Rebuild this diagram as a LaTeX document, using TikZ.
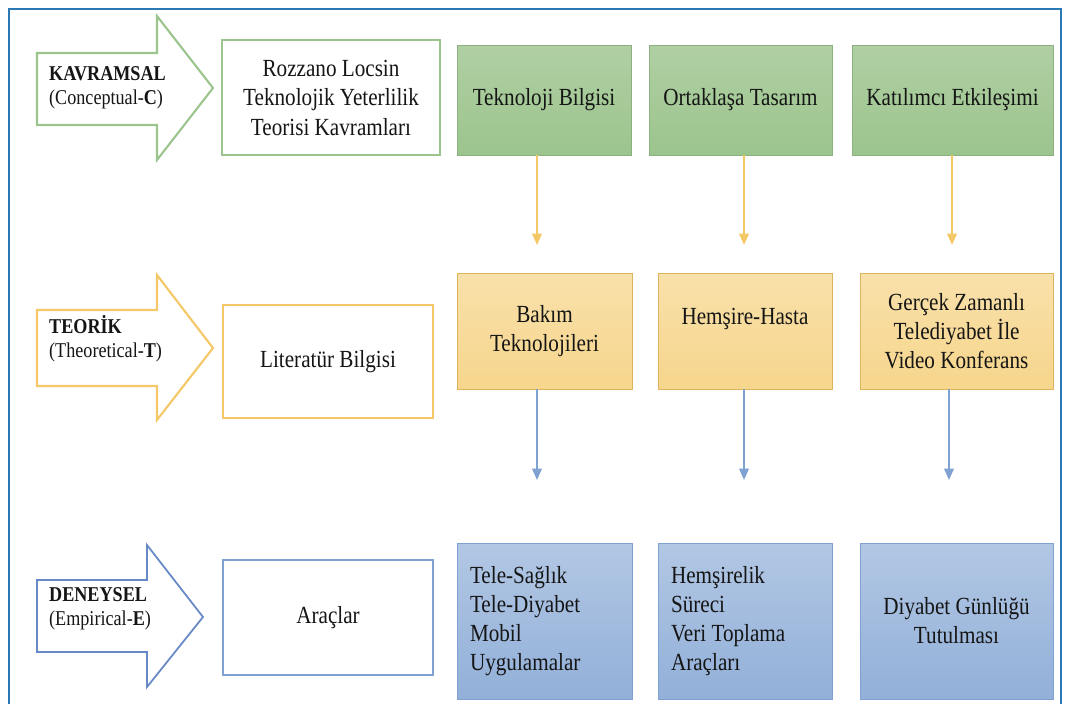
\documentclass[tikz,border=0pt]{standalone}
\usepackage{fontspec}
\setmainfont{Liberation Serif}[FakeStretch=0.86]
\usepackage{tikz}
\usepackage{xcolor}
\usetikzlibrary{arrows.meta}

\definecolor{marco}{HTML}{2A79B4}
\definecolor{verdeB}{HTML}{9CC48D}
\definecolor{naranjaB}{HTML}{F4C866}
\definecolor{azulB}{HTML}{6688C6}
\definecolor{azulL}{HTML}{7FA2D2}
\definecolor{texto}{HTML}{151515}

\begin{document}
\begin{tikzpicture}[x=0.02cm, y=-0.02cm, text=texto,
    etiq/.style={anchor=west, align=left, font=\fontsize{12}{13.8}\selectfont},
    caja/.style={draw, fill=white, align=center, minimum height=2.3cm, font=\fontsize{14}{16.8}\selectfont},
    bloque/.style={draw, align=center, minimum height=2.2cm, font=\fontsize{14}{16.5}\selectfont},
    flecha/.style={line width=.9pt, -{Triangle[width=5.5pt,length=6.5pt]}}]
				\useasboundingbox (0,0) rectangle (1068,704);
				%Marco
				\draw[marco, line width=1.4pt] (9,704)--(9,9)--(1061,9)--(1061,704);

				%Flechas grandes
				\draw[verdeB, line width=1.2pt, fill=white] (37,53)--(157,53)--(157,16)--(213,88)--(157,160)--(157,125)--(37,125)--cycle;
				\draw[naranjaB, line width=1.2pt, fill=white] (37,310)--(157,310)--(157,275)--(213,348)--(157,420)--(157,386)--(37,386)--cycle;
				\draw[azulB, line width=1pt, fill=white] (37,580)--(147,580)--(147,545)--(203,617)--(147,687)--(147,652)--(37,652)--cycle;
				\node[etiq] (kav) at (43,88) {\textbf{KAVRAMSAL}\\(Conceptual-\textbf{C})};
				\node[etiq] (teo) at (43,339) {\textbf{TEORİK}\\(Theoretical-\textbf{T})};
				\node[etiq] (den) at (43,609) {\textbf{DENEYSEL}\\(Empirical-\textbf{E})};

				%Cajas blancas
				\node[caja, draw=verdeB, line width=1.3pt, minimum width=4.36cm] (roz) at (331,97.5) {Rozzano Locsin\\Teknolojik Yeterlilik\\Teorisi Kavramları};
				\node[caja, draw=naranjaB, line width=1.3pt, minimum width=4.2cm, minimum height=2.26cm] (lit) at (328,361.5) {Literatür Bilgisi};
				\node[caja, draw=azulL, line width=1pt, minimum width=4.2cm] (arac) at (328,617.5) {Araçlar};

				%Fila verde
				\node[bloque, draw=verdeB!90!black, top color=verdeB!80!white, bottom color=verdeB, minimum width=3.48cm] (g1) at (544,100) {Teknoloji Bilgisi};
				\node[bloque, draw=verdeB!90!black, top color=verdeB!80!white, bottom color=verdeB, minimum width=3.66cm] (g2) at (740.5,100) {Ortaklaşa Tasarım};
				\node[bloque, draw=verdeB!90!black, top color=verdeB!80!white, bottom color=verdeB, minimum width=4.02cm] (g3) at (952.5,100) {Katılımcı Etkileşimi};

				%Fila naranja
				\node[bloque, draw=naranjaB!90!black, top color=naranjaB!55!white, bottom color=naranjaB!75!white, minimum width=3.5cm, minimum height=2.32cm] (o1) at (544.5,331) {Bakım\\Teknolojileri};
				\node[bloque, draw=naranjaB!90!black, top color=naranjaB!55!white, bottom color=naranjaB!75!white, minimum width=3.48cm, minimum height=2.32cm] (o2) at (745,331) {Hemşire-Hasta\\\mbox{}};
				\node[bloque, draw=naranjaB!90!black, top color=naranjaB!55!white, bottom color=naranjaB!75!white, minimum width=3.86cm, minimum height=2.32cm] (o3) at (956.5,331) {Gerçek Zamanlı\\Telediyabet İle\\Video Konferans};

				%Fila azul
				\node[bloque, draw=azulL, top color=azulL!60!white, bottom color=azulL!85!white, minimum width=3.5cm, minimum height=3.12cm, text width=2.98cm, align=flush left] (b1) at (544.5,621) {Tele-Sağlık\\Tele-Diyabet\\Mobil\\Uygulamalar};
				\node[bloque, draw=azulL, top color=azulL!60!white, bottom color=azulL!85!white, minimum width=3.48cm, minimum height=3.12cm, text width=2.96cm, align=flush left] (b2) at (745,621) {Hemşirelik\\Süreci\\Veri Toplama\\Araçları};
				\node[bloque, draw=azulL, top color=azulL!60!white, bottom color=azulL!85!white, minimum width=3.86cm, minimum height=3.12cm] (b3) at (956.5,621) {Diyabet Günlüğü\\Tutulması};

				%Conectores
				\coordinate (p1) at (537,245);
				\coordinate (p2) at (744,245);
				\coordinate (p3) at (952,245);
				\coordinate (q1) at (537,480);
				\coordinate (q2) at (744,480);
				\coordinate (q3) at (949,480);
				\draw[flecha, naranjaB] (g1.south -| p1)--(p1);
				\draw[flecha, naranjaB] (g2.south -| p2)--(p2);
				\draw[flecha, naranjaB] (g3.south -| p3)--(p3);
				\draw[flecha, azulL] (o1.south -| q1)--(q1);
				\draw[flecha, azulL] (o2.south -| q2)--(q2);
				\draw[flecha, azulL] (o3.south -| q3)--(q3);
\end{tikzpicture}
\end{document}
